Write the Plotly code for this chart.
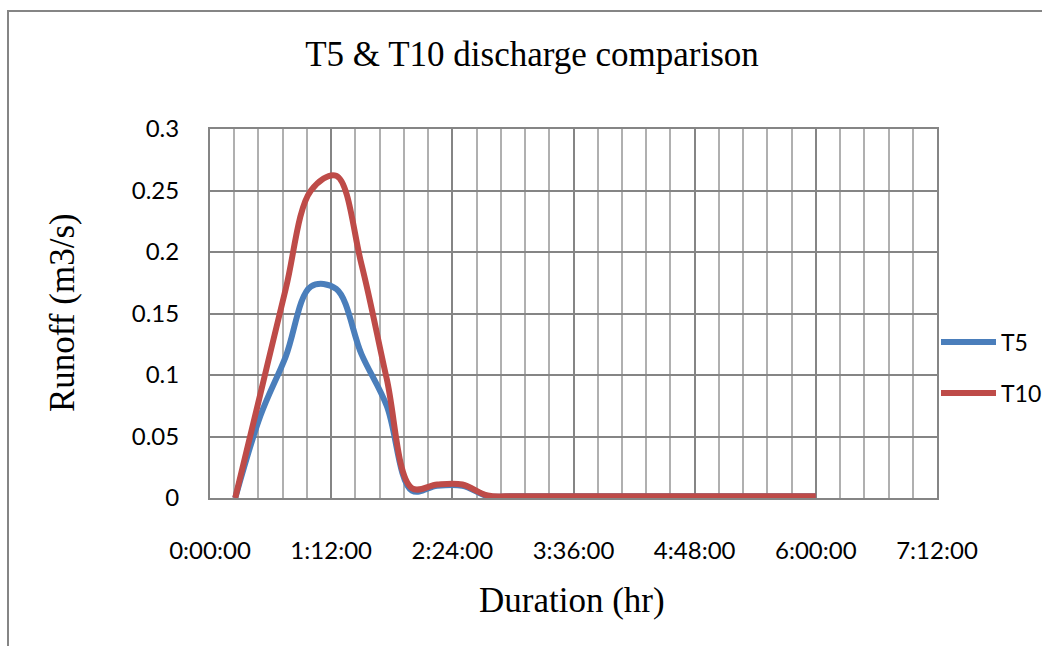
import plotly.graph_objects as go

# Hydrograph ordinates, 15-minute steps (h:mm)
times = ["0:15", "0:30", "0:45", "1:00", "1:15", "1:30", "1:45", "2:00",
         "2:15", "2:30", "2:45", "3:00", "3:15", "3:30", "3:45", "4:00",
         "4:15", "4:30", "4:45", "5:00", "5:15", "5:30", "5:45", "6:00"]
t5 = [0.0, 0.067, 0.115, 0.172, 0.170, 0.117, 0.075, 0.006,
      0.010, 0.010, 0.0015, 0.0015, 0.0015, 0.0015, 0.0015, 0.0015,
      0.0015, 0.0015, 0.0015, 0.0015, 0.0015, 0.0015, 0.0015, 0.0015]
t10 = [0.0, 0.085, 0.170, 0.250, 0.262, 0.190, 0.097, 0.008,
       0.011, 0.011, 0.002, 0.0015, 0.0015, 0.0015, 0.0015, 0.0015,
       0.0015, 0.0015, 0.0015, 0.0015, 0.0015, 0.0015, 0.0015, 0.0015]

# Axis ticks: every 1:12:00, minor grid every 0.01 day (14.4 min)
tick_minutes = [0, 72, 144, 216, 288, 360, 432]


def to_minutes(s):
    h, m = s.split(":")
    return int(h) * 60 + int(m)


def hms(minutes):
    return f"{minutes // 60}:{minutes % 60:02d}:00"


x = [to_minutes(s) for s in times]

BLUE = "#4A7EBB"
RED = "#BE4B48"
MAJOR = "#858585"
MINOR = "#B0B0B0"
TICK_FONT = dict(family="Lato", size=24, color="#000000")
LEGEND_FONT = dict(family="Lato", size=23, color="#000000")
SERIF = "Liberation Serif"

fig = go.Figure()
fig.add_trace(go.Scatter(
    x=x, y=t5, name="T5", mode="lines",
    line=dict(color=BLUE, width=6, shape="spline", smoothing=1.0),
    legend="legend", showlegend=True,
))
fig.add_trace(go.Scatter(
    x=x, y=t10, name="T10", mode="lines",
    line=dict(color=RED, width=6, shape="spline", smoothing=1.0),
    legend="legend2", showlegend=True,
))

L, R, T, B = 210, 105, 129, 148
W, H = 1042, 646
pw, ph = W - L - R, H - T - B


def px_x(p):
    return (p - L) / pw


def px_y(p):
    return (H - B - p) / ph


def legend_box(ypx):
    return dict(x=936 / W, y=1 - ypx / H, xref="container", yref="container",
                xanchor="left", yanchor="middle", font=LEGEND_FONT,
                bgcolor="rgba(0,0,0,0)", itemwidth=55)


fig.update_layout(
    width=W, height=H, showlegend=True,
    margin=dict(l=L, r=R, t=T, b=B, pad=0, autoexpand=False),
    paper_bgcolor="white", plot_bgcolor="white",
    title=dict(text="T5 & T10 discharge comparison",
               font=dict(family=SERIF, size=35, color="#000000"),
               x=532 / W, xref="container", xanchor="center",
               y=1 - 54 / H, yref="container", yanchor="middle"),
    xaxis=dict(
        range=[0, 432], tickvals=tick_minutes,
        ticktext=[hms(m) for m in tick_minutes],
        tickfont=TICK_FONT, ticks="", ticklabelstandoff=30,
        showgrid=True, gridcolor=MAJOR, gridwidth=2,
        minor=dict(dtick=14.4, tick0=0, showgrid=True,
                   gridcolor=MINOR, gridwidth=2, ticks=""),
        showline=True, linecolor=MAJOR, linewidth=2, mirror=True,
        zeroline=False, fixedrange=True,
    ),
    yaxis=dict(
        range=[0, 0.3], dtick=0.05, tick0=0,
        tickfont=TICK_FONT, ticks="", ticklabelstandoff=24,
        showgrid=True, gridcolor=MAJOR, gridwidth=2,
        showline=True, linecolor=MAJOR, linewidth=2, mirror=True,
        zeroline=False, fixedrange=True,
    ),
    legend=legend_box(342),
    legend2=legend_box(393),
    annotations=[
        dict(text="Duration (hr)", x=px_x(572), y=px_y(600),
             xref="paper", yref="paper", showarrow=False,
             xanchor="center", yanchor="middle",
             font=dict(family=SERIF, size=35, color="#000000")),
        dict(text="Runoff (m3/s)", x=px_x(62), y=px_y(313),
             xref="paper", yref="paper", showarrow=False, textangle=-90,
             xanchor="center", yanchor="middle",
             font=dict(family=SERIF, size=35, color="#000000")),
    ],
    shapes=[
        # outer chart frame
        dict(type="rect", xref="paper", yref="paper",
             x0=px_x(8), x1=px_x(1100), y0=px_y(700), y1=px_y(11),
             line=dict(color=MAJOR, width=2), layer="below"),
    ],
)

fig.write_html("out.html")
